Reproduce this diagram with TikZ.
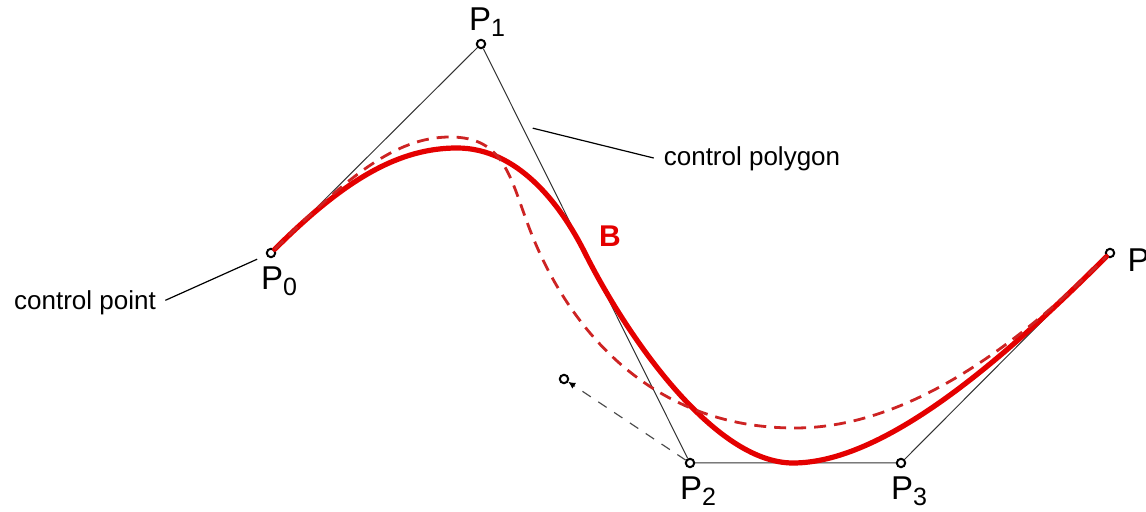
\documentclass[tikz,border=0pt]{standalone}
\usepackage{fontspec}
\setmainfont{Liberation Sans}
\usepackage{tikz}
\usetikzlibrary{arrows.meta, positioning}

\definecolor{curvered}{RGB}{228,0,0}
\definecolor{dashred}{RGB}{205,35,35}

\newcommand{\ptlabel}[1]{P\raisebox{-3pt}{\fontsize{12.5}{13}\selectfont #1}}

\begin{document}
\begin{tikzpicture}[
      x=0.5pt, y=-0.5pt,
      every node/.style={inner sep=0pt, font=\fontsize{13}{15}\selectfont},
      ctrlpt/.style={circle, draw=black, fill=white, line width=1pt, minimum size=4.2pt, inner sep=0pt},
      polyline/.style={draw=black!80, line width=0.5pt},
      leader/.style={draw=black, line width=0.6pt},
      plabel/.style={font=\fontsize{16.5}{18}\selectfont},
      handle/.style={draw=black!70, line width=0.6pt, dash pattern=on 5pt off 4.5pt, -{Latex[length=3.5pt, width=3.5pt, black]}},
      bcurve/.style={draw=curvered, line width=2.6pt, line cap=round},
      bmoved/.style={draw=dashred, line width=1.4pt, dash pattern=on 6pt off 4pt}
    ]
      \useasboundingbox (0,0) rectangle (1146,512);
      \clip (0,0) rectangle (1146,512);

      \node[ctrlpt] (P0) at (271,253) {};
      \node[ctrlpt] (P1) at (481,44) {};
      \node[ctrlpt] (P2) at (690,463) {};
      \node[ctrlpt] (P3) at (901,463) {};
      \node[ctrlpt] (P4) at (1110,253) {};
      \node[ctrlpt] (Q) at (564,379) {};

      \draw[polyline] (P0) -- (P1) -- (P2) -- (P3) -- (P4);
      \draw[handle] (P2) -- (Q);

      \draw[bcurve] (P0) .. controls (346,178) and (400,148) .. (457,148)
        .. controls (517,148) and (560,203) .. (585,253)
        .. controls (625,333) and (713,463) .. (793,463)
        .. controls (883,463) and (1000,363) .. (P4);
      \draw[bmoved] (P0) .. controls (346,178) and (395,137) .. (450,137)
        .. controls (505,137) and (510,178) .. (530,230)
        .. controls (565,321) and (645,428) .. (795,428)
        .. controls (895,428) and (1000,363) .. (P4);

      \node[plabel, below=4pt of P0, xshift=4pt] (l0) {\ptlabel{0}};
      \node[plabel, above=1pt of P1, xshift=3pt] (l1) {\ptlabel{1}};
      \node[plabel, below=4pt of P2, xshift=4pt] (l2) {\ptlabel{2}};
      \node[plabel, below=4pt of P3, xshift=4pt] (l3) {\ptlabel{3}};
      \node[plabel, right=6pt of P4, yshift=-5pt] (l4) {\ptlabel{4}};

      \node[text=curvered, font=\fontsize{15}{17}\selectfont\bfseries] (B) at (610,236) {B};

      \node (cpt) at (85,303) {control point};
      \node (cpoly) at (752,159) {control polygon};
      \coordinate (polytouch) at (524,126);

      \draw[leader, shorten <=5pt, shorten >=5pt] (cpt.mid east) -- (P0);
      \draw[leader, shorten <=5pt, shorten >=4.5pt] (cpoly.mid west) -- (polytouch);
    \end{tikzpicture}
\end{document}
